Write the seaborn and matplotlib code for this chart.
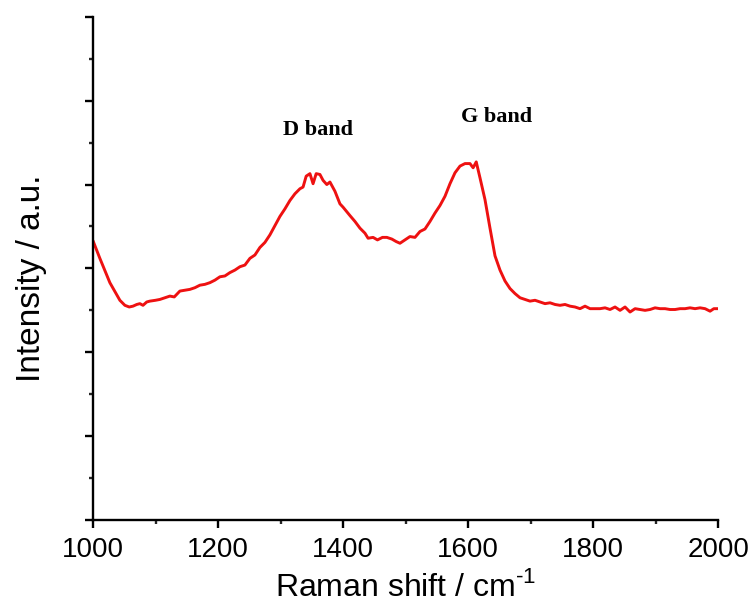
import matplotlib
matplotlib.use("Agg")
import matplotlib.pyplot as plt
import seaborn as sns
import pandas as pd
from matplotlib.ticker import MultipleLocator, NullFormatter

# Raman spectrum (intensity in arbitrary units)
raman_shift = [1000, 1011, 1027, 1043, 1051, 1058, 1064, 1070, 1075, 1080, 1086, 1091,
               1100, 1107, 1115, 1123, 1130, 1139, 1147, 1155, 1163, 1171, 1179, 1187,
               1195, 1203, 1211, 1219, 1227, 1235, 1243, 1251, 1259, 1267, 1275, 1283,
               1291, 1299, 1307, 1315, 1323, 1331, 1336, 1341, 1347, 1352, 1357, 1363,
               1368, 1374, 1379, 1387, 1395, 1400, 1411, 1419, 1427, 1435, 1440, 1448,
               1455, 1463, 1470, 1478, 1485, 1491, 1499, 1507, 1515, 1523, 1531, 1539,
               1547, 1555, 1563, 1571, 1579, 1587, 1595, 1603, 1608, 1613, 1619, 1627,
               1635, 1643, 1651, 1659, 1667, 1675, 1683, 1691, 1699, 1707, 1715, 1723,
               1731, 1739, 1747, 1755, 1763, 1771, 1779, 1787, 1795, 1803, 1811, 1819,
               1827, 1835, 1843, 1851, 1859, 1867, 1875, 1883, 1891, 1899, 1907, 1915,
               1923, 1931, 1939, 1947, 1955, 1963, 1971, 1979, 1987, 1993, 2000]
intensity = [3.33, 3.12, 2.83, 2.62, 2.56, 2.54, 2.55, 2.57, 2.58, 2.56, 2.60, 2.61,
             2.62, 2.63, 2.65, 2.67, 2.66, 2.73, 2.74, 2.75, 2.77, 2.80, 2.81, 2.83,
             2.86, 2.90, 2.91, 2.95, 2.98, 3.02, 3.04, 3.12, 3.16, 3.25, 3.31, 3.40,
             3.51, 3.62, 3.71, 3.81, 3.89, 3.95, 3.97, 4.10, 4.13, 4.01, 4.13, 4.12,
             4.05, 4.00, 4.03, 3.92, 3.77, 3.73, 3.63, 3.56, 3.48, 3.42, 3.36, 3.37,
             3.34, 3.37, 3.37, 3.35, 3.32, 3.30, 3.34, 3.38, 3.37, 3.44, 3.47, 3.56,
             3.66, 3.75, 3.86, 4.01, 4.14, 4.22, 4.25, 4.25, 4.20, 4.27, 4.08, 3.82,
             3.48, 3.15, 2.98, 2.85, 2.76, 2.70, 2.65, 2.63, 2.61, 2.62, 2.60, 2.58,
             2.59, 2.57, 2.56, 2.57, 2.55, 2.54, 2.52, 2.55, 2.52, 2.52, 2.52, 2.53,
             2.51, 2.54, 2.50, 2.54, 2.48, 2.52, 2.51, 2.50, 2.51, 2.53, 2.52, 2.52,
             2.51, 2.51, 2.52, 2.52, 2.53, 2.52, 2.53, 2.52, 2.49, 2.52, 2.52]

band_labels = ["D band", "G band"]
band_x = [1360, 1646]
band_y = [4.65, 4.81]

df = pd.DataFrame({"shift": raman_shift, "intensity": intensity})

sns.set_style("ticks")
plt.rcParams["font.family"] = ["Liberation Sans", "DejaVu Sans"]
plt.rcParams["mathtext.fontset"] = "custom"
plt.rcParams["mathtext.rm"] = "Liberation Sans"
plt.rcParams["text.color"] = "black"
plt.rcParams["axes.labelcolor"] = "black"

fig = plt.figure(figsize=(7.56, 6.07), dpi=100)
ax = fig.add_axes([0.123, 0.1433, 0.827, 0.829])

sns.lineplot(data=df, x="shift", y="intensity", color="#ee1111", linewidth=2.1, ax=ax)

# Band annotations
for label, bx, by in zip(band_labels, band_x, band_y):
    ax.text(bx, by, label, ha="center", va="center", fontsize=16,
            fontweight="bold", family=["Liberation Serif", "DejaVu Serif"])

ax.set_xlim(1000, 2000)
ax.set_ylim(0, 6)
ax.xaxis.set_major_locator(MultipleLocator(200))
ax.xaxis.set_minor_locator(MultipleLocator(100))
ax.yaxis.set_major_locator(MultipleLocator(1))
ax.yaxis.set_minor_locator(MultipleLocator(0.5))
ax.yaxis.set_major_formatter(NullFormatter())

ax.tick_params(which="major", length=6, width=1.7, direction="out", labelsize=20,
               colors="black", pad=6)
ax.tick_params(which="minor", length=3, width=1.7, direction="out")

for side in ["left", "bottom"]:
    ax.spines[side].set_linewidth(1.7)
    ax.spines[side].set_color("black")
sns.despine(ax=ax)

# hyphen (U+2010) in the superscript, as in the original
ax.set_xlabel("Raman shift / cm$^{\u20101}$", fontsize=23, labelpad=6)
ax.set_ylabel("Intensity / a.u.", fontsize=24)
ax.yaxis.set_label_coords(-0.074, 0.48)

fig.savefig("out.png", dpi=100)
